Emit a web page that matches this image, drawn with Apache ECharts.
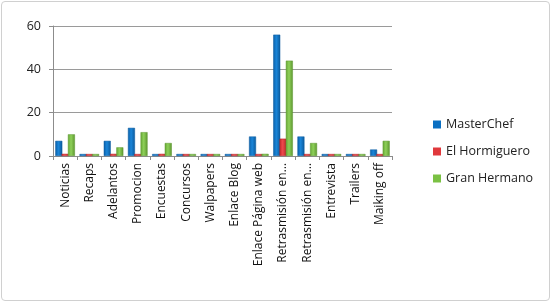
<!DOCTYPE html>
<html>
<head>
<meta charset="utf-8">
<script src="https://cdn.jsdelivr.net/npm/echarts@6/dist/echarts.min.js"></script>
<style>
  body { margin: 0; background: #fff; }
  #chart { position: absolute; left: 1px; top: 1px; width: 547px; height: 298px;
           border: 1px solid #d0d0d0; border-radius: 4px; }
</style>
</head>
<body>
<div id="chart"></div>
<script>
// categorias del eje x
const categories = ['Noticias', 'Recaps', 'Adelantos', 'Promocion', 'Encuestas', 'Concursos',
  'Walpapers', 'Enlace Blog', 'Enlace Página web', 'Retrasmisión en…', 'Retrasmisión en…',
  'Entrevista', 'Trailers', 'Maiking off'];
const masterChef   = [7, 0, 7, 13, 0, 0, 0, 0, 9, 56, 9, 0, 0, 3];
const hormiguero   = [1, 0, 1, 0, 1, 0, 0, 0, 0, 8, 0, 0, 0, 0];
const granHermano  = [10, 0, 4, 11, 6, 0, 0, 0, 1, 44, 6, 0, 0, 7];
const yTicks = [0, 20, 40, 60];

function grad(dark, mid, light) {
  return new echarts.graphic.LinearGradient(0, 0, 1, 0, [
    { offset: 0, color: dark },
    { offset: 0.45, color: mid },
    { offset: 1, color: light }
  ]);
}

const chart = echarts.init(document.getElementById('chart'));

function bar(name, data, color, fill) {
  return {
    name: name,
    type: 'bar',
    data: data,
    barWidth: 7,
    barGap: '-10%',
    barMinHeight: 2,
    itemStyle: { color: fill, borderColor: color, borderWidth: 0.5 }
  };
}

chart.setOption({
  animation: false,
  grid: { left: 51, right: 157, top: 24, bottom: 144 },
  legend: {
    orient: 'vertical',
    left: 426,
    top: 111,
    itemWidth: 8,
    itemHeight: 8,
    itemGap: 14,
    icon: 'rect',
    textStyle: { fontFamily: 'Open Sans', fontSize: 12.5, color: '#222' },
    data: [
      { name: 'MasterChef', itemStyle: { color: '#0a6fc2', borderWidth: 0 } },
      { name: 'El Hormiguero', itemStyle: { color: '#e0383c', borderWidth: 0 } },
      { name: 'Gran Hermano', itemStyle: { color: '#7ac143', borderWidth: 0 } }
    ]
  },
  xAxis: {
    type: 'category',
    data: categories,
    axisLine: { lineStyle: { color: '#8c8c8c' } },
    axisTick: { show: true, length: 4, lineStyle: { color: '#8c8c8c' } },
    axisLabel: {
      rotate: 90,
      interval: 0,
      margin: 7,
      fontFamily: 'Open Sans',
      fontSize: 12,
      color: '#111'
    }
  },
  yAxis: {
    type: 'value',
    min: yTicks[0],
    max: yTicks[yTicks.length - 1],
    interval: 20,
    axisLine: { show: true, lineStyle: { color: '#8c8c8c' } },
    axisTick: { show: true, length: 4, lineStyle: { color: '#8c8c8c' } },
    splitLine: { lineStyle: { color: '#9a9a9a', width: 1 } },
    axisLabel: { margin: 12, fontFamily: 'Open Sans', fontSize: 12.5, color: '#222' }
  },
  series: [
    bar('MasterChef', masterChef, '#0a5a9e', grad('#0a5fa8', '#1a85d8', '#0b5a9c')),
    bar('El Hormiguero', hormiguero, '#b52226', grad('#c42a2e', '#ee4a4c', '#b8272a')),
    bar('Gran Hermano', granHermano, '#5c9630', grad('#64a534', '#8ed059', '#5c962f'))
  ]
});
</script>
</body>
</html>
